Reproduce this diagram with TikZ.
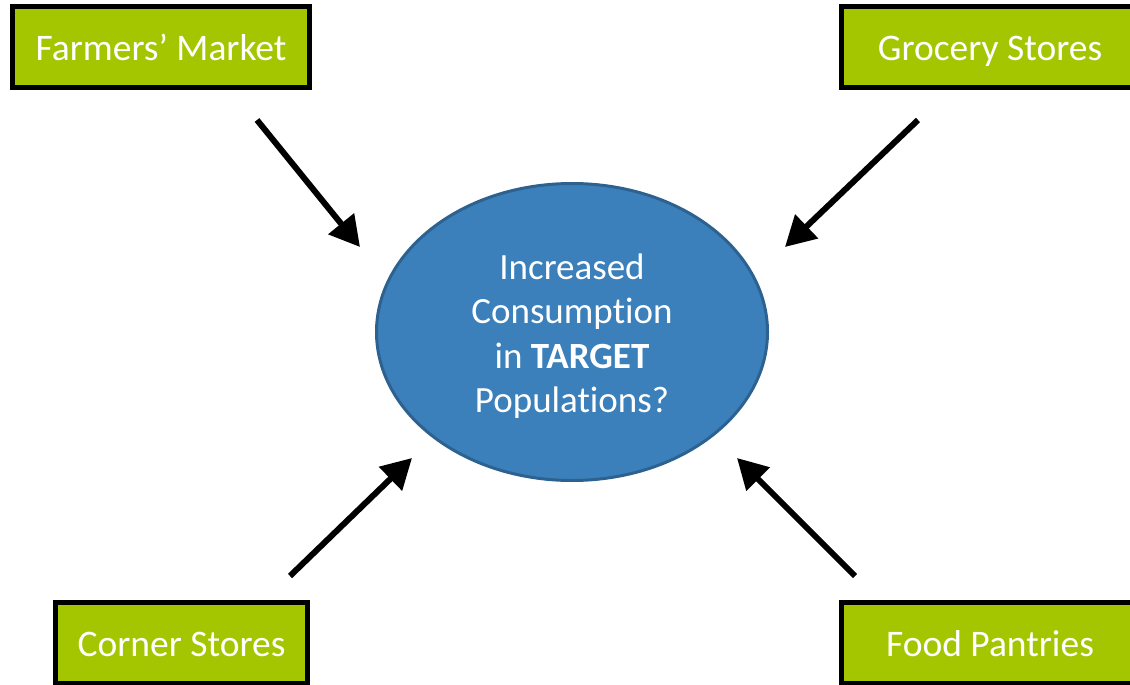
\documentclass[tikz,border=0pt]{standalone}
\usepackage{fontspec}
\setmainfont{Carlito}[Ligatures=NoCommon]
\usetikzlibrary{arrows.meta,shapes.geometric}
\definecolor{boxgreen}{HTML}{A3C600}
\definecolor{ellfill}{HTML}{3B80BA}
\definecolor{elldraw}{HTML}{2D6290}
\tikzset{
  srcbox/.style={draw=black, line width=5pt, fill=boxgreen, text=white, inner sep=0pt,
    minimum height=81pt, text height=30pt, text depth=4pt, font=\fontsize{37.5}{44}\selectfont},
  goal/.style={ellipse, draw=elldraw, line width=3pt, fill=ellfill, inner sep=0pt,
    minimum width=391pt, minimum height=297pt},
  goaltext/.style={text=white, align=center, inner sep=0pt, font=\fontsize{37}{44.5}\selectfont},
  feed/.style={line width=6pt, -{Triangle[length=30pt,width=32pt]}}
}
\begin{document}
\begin{tikzpicture}[x=1pt,y=-1pt]
\useasboundingbox (0,0) rectangle (1130,685);
\clip (0,0) rectangle (1130,685);
\node[srcbox, minimum width=297pt] (fm) at (161,47) {Farmers’ Market};
\node[srcbox, minimum width=297pt] (gs) at (990,47) {Grocery Stores};
\node[srcbox, minimum width=252pt] (cs) at (181.5,643) {Corner Stores};
\node[srcbox, minimum width=297pt] (fp) at (990,643) {Food Pantries};
\node[goal] (ell) at (572,332) {};
\node[goaltext] (ellt) at ([yshift=-4pt]ell.center) {Increased\\Consumption\\in \textbf{TARGET}\\Populations?};
\coordinate (fmS) at (257,120);
\coordinate (fmE) at (360,247);
\coordinate (gsS) at (918,120);
\coordinate (gsE) at (785,247);
\coordinate (csS) at (290,576);
\coordinate (csE) at (412,458);
\coordinate (fpS) at (855,576);
\coordinate (fpE) at (737,458);
\draw[feed] (fmS) -- (fmE);
\draw[feed] (gsS) -- (gsE);
\draw[feed] (csS) -- (csE);
\draw[feed] (fpS) -- (fpE);
\end{tikzpicture}
\end{document}
